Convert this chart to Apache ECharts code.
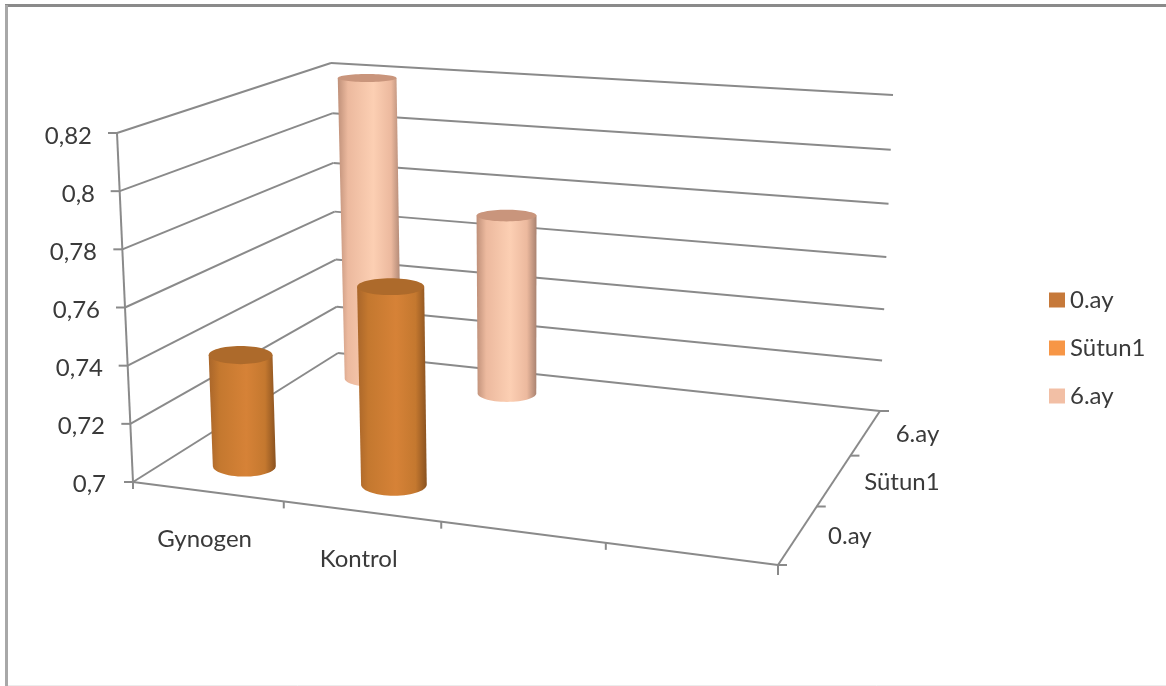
<!DOCTYPE html>
<html>
<head>
<meta charset="utf-8">
<style>
  html, body { margin: 0; padding: 0; background: #fff; }
  #chart { width: 1166px; height: 686px; }
</style>
<script src="https://cdn.jsdelivr.net/npm/echarts@6/dist/echarts.min.js"></script>
</head>
<body>
<div id="chart"></div>
<script>
// Values shown in the chart
const categories = ['Gynogen', 'Kontrol', '', ''];
const depthNames = ['0.ay', 'Sütun1', '6.ay'];
const values0ay = [0.739, 0.768, null, null];
const valuesSutun1 = [null, null, null, null];
const values6ay = [0.819, 0.77, null, null];
const valueTicks = [0.7, 0.72, 0.74, 0.76, 0.78, 0.8, 0.82];

// Box corners on screen: floor quad, then the vertical edge vector at each corner
const floorQuad = [[133, 482], [778, 565], [880, 411], [338, 353]];
const wallEdge = [[-16, -349], [8, -380], [13, -316], [-7, -290]];

const fontFamily = 'Lato, "Open Sans", sans-serif';
const fontSize = 24;
const lineColor = '#8a8a8a';
const textColor = '#3a3a3a';
const barWidthShare = 0.43;

// Square-to-quad perspective map for the floor plane
const floorMap = (function () {
  const [p0, p1, p2, p3] = floorQuad;
  const dx1 = p1[0] - p2[0], dx2 = p3[0] - p2[0], sx = p0[0] - p1[0] + p2[0] - p3[0];
  const dy1 = p1[1] - p2[1], dy2 = p3[1] - p2[1], sy = p0[1] - p1[1] + p2[1] - p3[1];
  const det = dx1 * dy2 - dx2 * dy1;
  const g = (sx * dy2 - dx2 * sy) / det;
  const h = (dx1 * sy - sx * dy1) / det;
  return {
    a: p1[0] - p0[0] + g * p1[0], b: p3[0] - p0[0] + h * p3[0], c: p0[0],
    d: p1[1] - p0[1] + g * p1[1], e: p3[1] - p0[1] + h * p3[1], f: p0[1],
    g: g, h: h
  };
})();

// u runs along the categories, w into the depth, t up the value range (all 0..1)
function project(u, w, t) {
  const m = floorMap;
  const q = m.g * u + m.h * w + 1;
  const fx = (m.a * u + m.b * w + m.c) / q;
  const fy = (m.d * u + m.e * w + m.f) / q;
  const blend = i =>
    (1 - w) * ((1 - u) * wallEdge[0][i] + u * wallEdge[1][i]) +
    w * ((1 - u) * wallEdge[3][i] + u * wallEdge[2][i]);
  // Heights compress a little toward the top of the far wall
  const rise = t - 0.05 * w * t * (1 - t);
  return [fx + rise * blend(0), fy + rise * blend(1)];
}

const depthCentre = d => (d + 0.5) / depthNames.length;
const catCentre = c => (c + 0.5) / categories.length;

// Share of the value axis covered by a value, read through the y axis scale
function axisShare(api, value) {
  const y0 = api.coord([0, valueTicks[0]])[1];
  const y1 = api.coord([0, valueTicks[valueTicks.length - 1]])[1];
  return (y0 - api.coord([0, value])[1]) / (y0 - y1);
}

function strokeLine(a, b) {
  return {
    type: 'line',
    shape: { x1: a[0], y1: a[1], x2: b[0], y2: b[1] },
    style: { stroke: lineColor, lineWidth: 2, fill: null }
  };
}

function labelText(text, x, y, align) {
  return {
    type: 'text',
    style: {
      text: text, x: x, y: y, align: align, verticalAlign: 'middle',
      fill: textColor, font: fontSize + 'px ' + fontFamily
    }
  };
}

// Wall grid, floor edges, tick marks, category and depth labels
function renderFrame(params, api) {
  const children = [];
  valueTicks.forEach(function (tick) {
    const t = axisShare(api, tick);
    const front = project(0, 0, t), backL = project(0, 1, t), backR = project(1, 1, t);
    children.push(strokeLine(front, backL), strokeLine(backL, backR));
    children.push(strokeLine(front, [front[0] - 9, front[1]]));
  });
  children.push(strokeLine(project(0, 0, 0), project(0, 0, 1)));
  children.push(strokeLine(project(0, 0, 0), project(1, 0, 0)));
  children.push(strokeLine(project(1, 0, 0), project(1, 1, 0)));
  categories.forEach(function (name, i) {
    const tick = project(i / categories.length, 0, 0);
    children.push(strokeLine(tick, [tick[0], tick[1] + 7]));
    if (name) {
      const c = project(catCentre(i), 0, 0);
      children.push(labelText(name, c[0] - 3, c[1] + 48, 'center'));
    }
  });
  depthNames.forEach(function (name, i) {
    const tick = project(1, (i + 1) / depthNames.length, 0);
    children.push(strokeLine(tick, [tick[0] + 9, tick[1]]));
    const c = project(1, depthCentre(i), 0);
    children.push(labelText(name, c[0] + 30, c[1] + 2, 'left'));
  });
  const corner = project(1, 0, 0);
  children.push(strokeLine(corner, [corner[0] + 9, corner[1]]));
  children.push(strokeLine(corner, [corner[0], corner[1] + 10]));
  return { type: 'group', children: children };
}

// Cylinder seen from above: shaded side, darker cap
function cylinderRenderer(depthIndex, shades) {
  return function (params, api) {
    const value = api.value(1);
    if (isNaN(value)) return null;
    const u = catCentre(api.value(0));
    const w = depthCentre(depthIndex);
    const t = axisShare(api, value);
    const du = barWidthShare / categories.length / 2;
    const dw = barWidthShare / depthNames.length / 2;

    const ellipseAt = function (level) {
      const c = project(u, w, level);
      return {
        cx: c[0] - 1, cy: c[1],
        rx: Math.abs(project(u + du, w, level)[0] - project(u - du, w, level)[0]) / 2,
        ry: Math.abs(project(u, w + dw, level)[1] - project(u, w - dw, level)[1]) / 2
      };
    };
    const base = ellipseAt(0);
    const top = ellipseAt(t);

    const outline = [[top.cx - top.rx, top.cy]];
    for (let i = 0; i <= 30; i++) {
      const a = Math.PI * i / 30;
      outline.push([base.cx - base.rx * Math.cos(a), base.cy + base.ry * Math.sin(a)]);
    }
    outline.push([top.cx + top.rx, top.cy]);

    return {
      type: 'group',
      children: [
        {
          type: 'polygon',
          shape: { points: outline },
          style: {
            fill: new echarts.graphic.LinearGradient(0, 0, 1, 0, [
              { offset: 0, color: shades.edgeL },
              { offset: 0.16, color: shades.side },
              { offset: 0.56, color: shades.mid },
              { offset: 0.84, color: shades.side },
              { offset: 1, color: shades.edgeR }
            ])
          }
        },
        {
          type: 'ellipse',
          shape: { cx: top.cx, cy: top.cy, rx: top.rx, ry: top.ry },
          style: { fill: shades.cap }
        }
      ]
    };
  };
}

const orangeShades = { edgeL: '#a9662a', side: '#c4782f', mid: '#d68237', edgeR: '#8a5220', cap: '#ad6a2b' };
const sutunShades = { edgeL: '#c97a34', side: '#ee8e3f', mid: '#f79646', edgeR: '#b56e2e', cap: '#cf7f38' };
const peachShades = { edgeL: '#bf9079', side: '#ecb99e', mid: '#fccfb3', edgeR: '#a98270', cap: '#c9957c' };

// Per-tick right padding keeps the value labels parallel to the slanted wall edge
const axisRich = {};
valueTicks.forEach(function (tick, i) {
  const share = i / (valueTicks.length - 1);
  axisRich['t' + i] = {
    padding: [0, Math.max(0, Math.round(131 - project(0, 0, share)[0])), 0, 0],
    fontFamily: fontFamily, fontSize: fontSize, color: textColor
  };
});

function cylinderSeries(name, depthIndex, values, shades, legendColor, z) {
  return {
    type: 'custom',
    name: name,
    z: z,
    silent: true,
    coordinateSystem: 'cartesian2d',
    renderItem: cylinderRenderer(depthIndex, shades),
    itemStyle: { color: legendColor },
    data: values.map((v, i) => [i, v])
  };
}

const chart = echarts.init(document.getElementById('chart'), null, { renderer: 'canvas' });
chart.setOption({
  animation: false,
  backgroundColor: '#ffffff',
  grid: { left: 106, top: 136, width: 700, height: 348, containLabel: false },
  xAxis: { type: 'category', data: categories, show: false },
  yAxis: {
    type: 'value',
    min: valueTicks[0],
    max: valueTicks[valueTicks.length - 1],
    interval: 0.02,
    axisLine: { show: false },
    axisTick: { show: false },
    splitLine: { show: false },
    axisLabel: {
      margin: 0,
      rich: axisRich,
      formatter: function (value) {
        const i = valueTicks.findIndex(t => Math.abs(t - value) < 1e-6);
        return '{t' + i + '|' + String(valueTicks[i]).replace('.', ',') + '}';
      }
    }
  },
  legend: {
    orient: 'vertical',
    left: 1044,
    top: 282,
    icon: 'rect',
    itemWidth: 16,
    itemHeight: 15,
    itemGap: 22,
    selectedMode: false,
    data: depthNames,
    textStyle: { fontFamily: fontFamily, fontSize: fontSize, color: textColor, lineHeight: 26 }
  },
  graphic: [
    { type: 'line', shape: { x1: 5, y1: 5.5, x2: 1166, y2: 5.5 }, style: { stroke: '#8a8a8a', lineWidth: 3 } },
    { type: 'line', shape: { x1: 6.5, y1: 5, x2: 6.5, y2: 686 }, style: { stroke: '#a8a8a8', lineWidth: 3 } },
    { type: 'line', shape: { x1: 8, y1: 685.5, x2: 1166, y2: 685.5 }, style: { stroke: '#ececec', lineWidth: 1 } }
  ],
  series: [
    {
      type: 'custom',
      name: 'frame',
      z: 1,
      silent: true,
      coordinateSystem: 'cartesian2d',
      renderItem: renderFrame,
      data: [[0, valueTicks[0]]]
    },
    cylinderSeries(depthNames[0], 0, values0ay, orangeShades, '#c6793a', 4),
    cylinderSeries(depthNames[1], 1, valuesSutun1, sutunShades, '#f79646', 3),
    cylinderSeries(depthNames[2], 2, values6ay, peachShades, '#f2bfa5', 2)
  ]
});
</script>
</body>
</html>
